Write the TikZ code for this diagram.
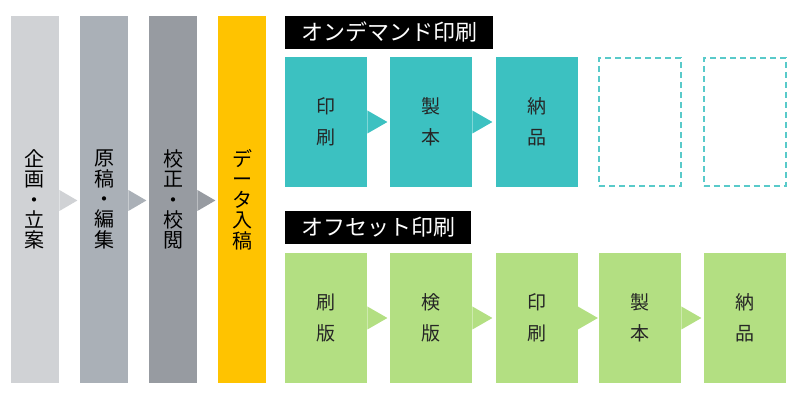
\documentclass[tikz,border=0pt]{standalone}
\usepackage{fontspec}
\newfontfamily\jp{Noto Sans CJK JP}
\usetikzlibrary{calc}
\definecolor{plangray}{HTML}{D0D2D5}
\definecolor{editgray}{HTML}{AAB0B7}
\definecolor{proofgray}{HTML}{979BA1}
\definecolor{datayellow}{HTML}{FFC300}
\definecolor{odteal}{HTML}{3CC1C1}
\definecolor{offgreen}{HTML}{B3DF82}
\begin{document}
\begin{tikzpicture}[x=0.5pt, y=-0.5pt, font=\jp,
  col/.style={minimum width=24pt, minimum height=183.5pt, inner sep=0pt, align=center,
    font=\jp\fontsize{10}{10.2}\selectfont},
  stage/.style={minimum width=41pt, minimum height=65pt, inner sep=0pt, align=center,
    text=black!85, font=\jp\fontsize{9.5}{15.5}\selectfont},
  ghost/.style={minimum width=41pt, minimum height=64pt, inner sep=0pt,
    draw=odteal!85, dash pattern=on 3pt off 2pt, line width=1pt},
  tag/.style={fill=black, text=white, anchor=west, inner xsep=8pt, inner ysep=0pt,
    minimum height=16.5pt, font=\jp\fontsize{11}{11}\selectfont}]
  \useasboundingbox (0,0) rectangle (800,400);
  % workflow columns
  \node[col, fill=plangray]   (plan)  at (35,199.5)  {企\\画\\・\\立\\案};
  \node[col, fill=editgray]   (edit)  at (104,199.5) {原\\稿\\・\\編\\集};
  \node[col, fill=proofgray]  (proof) at (173,199.5) {校\\正\\・\\校\\閲};
  \node[col, fill=datayellow] (data)  at (242,199.5) {デ\\ー\\タ\\入\\稿};
  \fill[plangray]  ($(plan.east)+(0,-9.5)$)  -- ($(plan.east)+(18,1)$)  -- ($(plan.east)+(0,11.5)$) -- cycle;
  \fill[editgray]  ($(edit.east)+(0,-9.5)$)  -- ($(edit.east)+(18,1)$)  -- ($(edit.east)+(0,11.5)$) -- cycle;
  \fill[proofgray] ($(proof.east)+(0,-9.5)$) -- ($(proof.east)+(18,1)$) -- ($(proof.east)+(0,11.5)$) -- cycle;
  % on-demand printing
  \node[tag] (odtag) at (285,32.5) {オンデマンド印刷};
  \node[stage, fill=odteal] (od1) at (326,122)   {印\\刷};
  \node[stage, fill=odteal] (od2) at (431,122)   {製\\本};
  \node[stage, fill=odteal] (od3) at (536.5,122) {納\\品};
  \node[ghost] (od4) at (640,122) {};
  \node[ghost] (od5) at (744.5,122) {};
  \foreach \n in {od1,od2}
    \fill[odteal] ($(\n.east)+(0,-11.5)$) -- ($(\n.east)+(20,0)$) -- ($(\n.east)+(0,11.5)$) -- cycle;
  % offset printing
  \node[tag] (offtag) at (285,227.5) {オフセット印刷};
  \node[stage, fill=offgreen] (off1) at (326,318)   {刷\\版};
  \node[stage, fill=offgreen] (off2) at (431,318)   {検\\版};
  \node[stage, fill=offgreen] (off3) at (536.5,318) {印\\刷};
  \node[stage, fill=offgreen] (off4) at (640,318)   {製\\本};
  \node[stage, fill=offgreen] (off5) at (745,318)   {納\\品};
  \foreach \n in {off1,off2,off3,off4}
    \fill[offgreen] ($(\n.east)+(0,-11.5)$) -- ($(\n.east)+(20,0)$) -- ($(\n.east)+(0,11.5)$) -- cycle;
\end{tikzpicture}
\end{document}
